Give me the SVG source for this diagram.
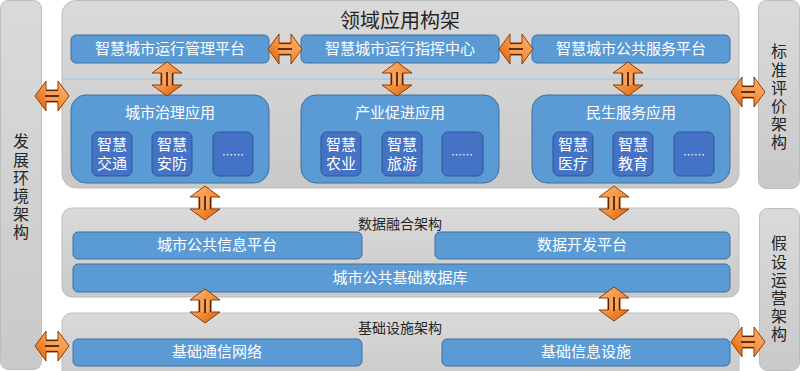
<svg xmlns="http://www.w3.org/2000/svg" xmlns:xlink="http://www.w3.org/1999/xlink" width="800" height="371" viewBox="0 0 800 371">
<defs>
<linearGradient id="gray" x1="0" y1="0" x2="0" y2="1">
<stop offset="0" stop-color="#dadada"/>
<stop offset="1" stop-color="#c9c9c9"/>
</linearGradient>
<linearGradient id="org" x1="0" y1="0" x2="1" y2="1">
<stop offset="0" stop-color="#fcb67a"/>
<stop offset="0.5" stop-color="#f7913f"/>
<stop offset="1" stop-color="#d8620a"/>
</linearGradient>
<g id="arrow">
<path d="M0,-17 L15,-6 L6,-6 L6,6 L15,6 L0,17 L-15,6 L-6,6 L-6,-6 L-15,-6 Z" fill="url(#org)" stroke="#8a3f06" stroke-width="1"/>
<path d="M-2.5,-6 V6 M2.5,-6 V6" stroke="#f9a55e" stroke-width="2.6"/>
<path d="M0,-7 V7" stroke="#3a1a03" stroke-width="1.6"/>
<path d="M-5.5,-6 V6 M5.5,-6 V6" stroke="#5a2904" stroke-width="1.2"/>
</g>
</defs>
<style>
.panel{fill:url(#gray);stroke:#bdbdbd;stroke-width:1}
.box{fill:#5b9bd5;stroke:#41719c;stroke-width:1}
.sub{fill:#4472c4;stroke:#2f5597;stroke-width:1}
.wt{font-family:"Noto Sans CJK SC","Noto Sans",sans-serif;fill:#ffffff;font-size:15px;text-anchor:middle}
.dt{font-family:"Noto Sans CJK SC","Noto Sans",sans-serif;fill:#262626;font-size:15px;text-anchor:middle}
.vt{font-family:"Noto Sans CJK SC","Noto Sans",sans-serif;fill:#262626;font-size:16px;text-anchor:middle;writing-mode:vertical-rl;letter-spacing:2.2px}
</style>
<rect width="800" height="371" fill="#ffffff"/>

<g id="env">
<rect class="panel" x="0.5" y="0.5" width="41" height="369" rx="8"/>
<text class="vt" x="21" y="188">发展环境架构</text>
</g>
<g id="std">
<rect class="panel" x="758.5" y="0.5" width="41" height="188" rx="8"/>
<text class="vt" x="779" y="98">标准评价架构</text>
</g>
<g id="ops">
<rect class="panel" x="759.5" y="208.5" width="40" height="162" rx="8"/>
<text class="vt" x="779" y="290">假设运营架构</text>
</g>

<g id="domain">
<rect class="panel" x="62" y="0.5" width="677" height="187.5" rx="14"/>
<text class="dt" x="400" y="28" style="font-size:20px">领域应用构架</text>
<line x1="62" y1="79" x2="739" y2="79" stroke="#9dc3e6" stroke-width="1"/>
</g>
<g id="mgmt">
<rect class="box" x="71" y="35" width="198" height="28" rx="5"/>
<text class="wt" x="170" y="54">智慧城市运行管理平台</text>
</g>
<g id="cmd">
<rect class="box" x="301" y="35" width="198" height="28" rx="5"/>
<text class="wt" x="400" y="54">智慧城市运行指挥中心</text>
</g>
<g id="svc">
<rect class="box" x="532" y="35" width="198" height="28" rx="5"/>
<text class="wt" x="631" y="54">智慧城市公共服务平台</text>
</g>

<g id="gov">
<rect class="box" x="71" y="95" width="198" height="88" rx="15"/>
<text class="wt" x="170" y="118">城市治理应用</text>
<rect class="sub" x="92" y="132" width="40" height="44" rx="6"/>
<text class="wt"><tspan x="112" y="150">智慧</tspan><tspan x="112" y="169">交通</tspan></text>
<rect class="sub" x="152" y="132" width="40" height="44" rx="6"/>
<text class="wt"><tspan x="172" y="150">智慧</tspan><tspan x="172" y="169">安防</tspan></text>
<rect class="sub" x="213" y="132" width="40" height="44" rx="6"/>
<text class="wt" x="233" y="159" style="font-size:11px">……</text>
</g>
<g id="ind">
<rect class="box" x="301" y="95" width="198" height="88" rx="15"/>
<text class="wt" x="400" y="118">产业促进应用</text>
<rect class="sub" x="321" y="132" width="40" height="44" rx="6"/>
<text class="wt"><tspan x="341" y="150">智慧</tspan><tspan x="341" y="169">农业</tspan></text>
<rect class="sub" x="382" y="132" width="40" height="44" rx="6"/>
<text class="wt"><tspan x="402" y="150">智慧</tspan><tspan x="402" y="169">旅游</tspan></text>
<rect class="sub" x="442" y="132" width="41" height="44" rx="6"/>
<text class="wt" x="462" y="159" style="font-size:11px">……</text>
</g>
<g id="live">
<rect class="box" x="532" y="95" width="198" height="88" rx="15"/>
<text class="wt" x="631" y="118">民生服务应用</text>
<rect class="sub" x="553" y="132" width="40" height="44" rx="6"/>
<text class="wt"><tspan x="573" y="150">智慧</tspan><tspan x="573" y="169">医疗</tspan></text>
<rect class="sub" x="613" y="132" width="40" height="44" rx="6"/>
<text class="wt"><tspan x="633" y="150">智慧</tspan><tspan x="633" y="169">教育</tspan></text>
<rect class="sub" x="674" y="132" width="40" height="44" rx="6"/>
<text class="wt" x="694" y="159" style="font-size:11px">……</text>
</g>

<g id="data">
<rect class="panel" x="62" y="208" width="677" height="89" rx="10"/>
<text class="dt" x="400" y="229" style="font-size:14px">数据融合架构</text>
</g>
<g id="pubinfo">
<rect class="box" x="73" y="232" width="289" height="27" rx="5"/>
<text class="wt" x="217" y="250">城市公共信息平台</text>
</g>
<g id="devp">
<rect class="box" x="435" y="232" width="295" height="27" rx="5"/>
<text class="wt" x="582" y="250">数据开发平台</text>
</g>
<g id="db">
<rect class="box" x="73" y="264" width="657" height="28" rx="5"/>
<text class="wt" x="400" y="283">城市公共基础数据库</text>
</g>

<g id="infra">
<rect class="panel" x="62" y="313" width="677" height="70" rx="10"/>
<text class="dt" x="400" y="333" style="font-size:14px">基础设施架构</text>
</g>
<g id="net">
<rect class="box" x="73" y="339" width="289" height="27" rx="5"/>
<text class="wt" x="217" y="357">基础通信网络</text>
</g>
<g id="fac">
<rect class="box" x="442" y="339" width="288" height="27" rx="5"/>
<text class="wt" x="586" y="357">基础信息设施</text>
</g>

<g id="connectors">
<use xlink:href="#arrow" transform="translate(285,49) rotate(90)"/>
<use xlink:href="#arrow" transform="translate(516,49) rotate(90)"/>
<use xlink:href="#arrow" transform="translate(167,79)"/>
<use xlink:href="#arrow" transform="translate(397,79)"/>
<use xlink:href="#arrow" transform="translate(628,79)"/>
<use xlink:href="#arrow" transform="translate(52,96) rotate(90)"/>
<use xlink:href="#arrow" transform="translate(748,92) rotate(90)"/>
<use xlink:href="#arrow" transform="translate(205,203)"/>
<use xlink:href="#arrow" transform="translate(614,203)"/>
<use xlink:href="#arrow" transform="translate(205,306)"/>
<use xlink:href="#arrow" transform="translate(614,304)"/>
<use xlink:href="#arrow" transform="translate(52,346) rotate(90)"/>
<use xlink:href="#arrow" transform="translate(748,342) rotate(90)"/>
</g>
</svg>
